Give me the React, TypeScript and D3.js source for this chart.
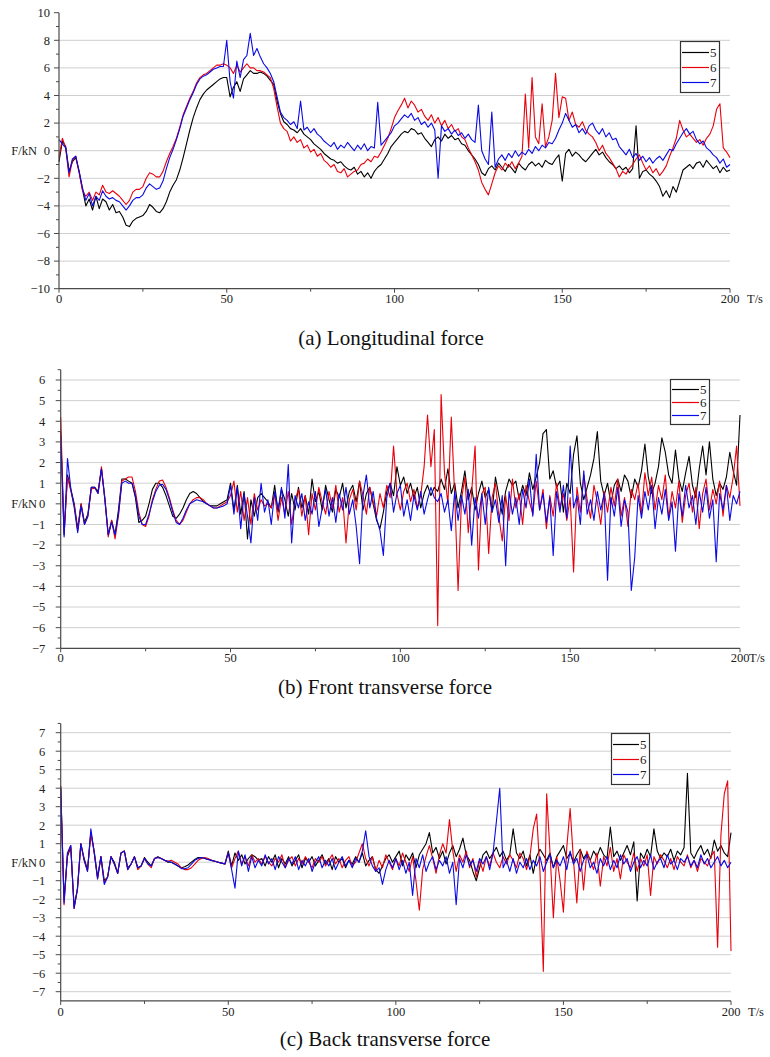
import { useEffect, useRef } from "react";
import * as d3 from "d3";

// sensors shown in every panel
const seriesNames = ["5", "6", "7"];
const seriesColors = ["#000000", "#e8000b", "#0a0ae6"];

// one sample per second, 0..200 s
const seconds = d3.range(0, 201);
const xTicks = [0, 50, 100, 150, 200];
const xMinorTicks = [25, 75, 125, 175];

// (a) longitudinal force, kN
const longitudinal5 = [
    -0.8, 0.7, 0.3, -1.5, -0.8, -0.5, -1.5, -2.8, -4.0, -3.5,
    -4.3, -3.3, -4.2, -3.5, -3.7, -4.3, -3.9, -4.5, -4.4, -4.8,
    -5.4, -5.5, -5.1, -4.9, -4.8, -4.7, -4.4, -3.9, -4.1, -4.4,
    -4.5, -4.2, -3.7, -3.0, -2.5, -2.1, -1.4, -0.5, 0.5, 1.5,
    2.4, 3.1, 3.7, 4.1, 4.4, 4.6, 4.8, 5.0, 5.2, 5.3,
    5.3, 3.9, 4.6, 5.0, 4.3, 5.2, 5.5, 5.8, 5.6, 5.6,
    5.7, 5.6, 5.4, 5.1, 4.8, 3.6, 2.7, 2.1, 1.9, 1.6,
    1.5, 1.3, 1.6, 1.2, 1.0, 0.8, 0.5, 0.3, 0.1, -0.2,
    -0.4, -0.6, -0.7, -0.9, -0.8, -1.1, -1.3, -1.4, -1.2, -1.7,
    -1.5, -1.9, -1.6, -2.0, -1.5, -1.2, -1.0, -0.6, -0.2, 0.3,
    0.6, 0.9, 1.2, 1.4, 1.3, 1.6, 1.5, 1.2, 1.3, 0.9,
    0.6, 0.3, 0.8, 1.0, 0.7, 1.2, 0.9, 1.1, 0.8, 0.9,
    0.5, 0.4, 0.0, -0.3, -0.6, -1.0, -1.6, -1.8, -1.3, -1.1,
    -1.4, -0.9, -1.2, -1.5, -1.0, -1.3, -1.6, -0.9, -1.2, -1.4,
    -1.0, -0.8, -1.1, -0.9, -1.2, -0.7, -0.9, -1.0, -0.6, -0.3,
    -2.2, -0.2, 0.1, -0.4, -0.1, -0.3, -0.6, -0.8, -0.5, -0.2,
    0.1, -0.3, -0.1, -0.5, -0.8, -1.0, -1.3, -1.1, -1.4, -1.2,
    -1.6, -1.3, 1.8, -2.0, -1.5, -1.4, -1.7, -1.9, -2.2, -2.6,
    -3.3, -2.9, -3.4, -2.6, -3.0, -2.2, -1.4, -1.2, -1.0, -1.3,
    -0.9, -0.8, -1.2, -0.7, -1.0, -1.3, -1.1, -1.6, -1.2, -1.5,
    -1.4,
];
const longitudinal6 = [
    -0.5, 0.9, 0.2, -1.9, -0.7, -0.4, -1.6, -2.9, -3.3, -3.0,
    -3.6, -3.0, -3.2, -2.5, -3.0, -3.1, -2.9, -3.1, -3.3, -3.6,
    -3.9, -3.6, -3.0, -2.8, -2.8, -2.6, -2.0, -1.6, -1.7, -1.9,
    -1.9, -1.5, -0.8, -0.2, 0.3, 0.9, 1.7, 2.6, 3.2, 3.8,
    4.3, 4.9, 5.3, 5.5, 5.6, 5.8, 6.0, 6.2, 6.2, 6.3,
    6.2, 6.0, 5.6, 6.2, 5.7, 6.0, 6.3, 6.0, 6.0, 5.8,
    5.8, 5.7, 5.5, 5.3, 4.5, 3.2, 2.0, 1.6, 1.4, 0.7,
    1.0, 0.6, 0.8, 0.2, 0.4, -0.1, 0.1, -0.4, -0.2, -0.7,
    -0.9, -1.2, -1.0, -1.5, -1.6, -1.3, -1.9, -1.7, -1.5, -1.4,
    -1.0, -0.9, -0.6, -0.8, -0.4, -0.5, -0.1, 0.4, 0.9, 1.6,
    2.4, 2.9, 3.3, 3.8, 3.1, 3.6, 3.3, 2.8, 3.0, 2.5,
    2.2, 2.6, 2.0, 2.4, 1.8, 2.2, 1.6, 1.9, 1.4, 1.6,
    1.0, 0.8, 0.2, -0.3, -0.8, -1.4, -2.3, -2.8, -3.2, -2.4,
    -1.6, -1.1, -1.4, -0.9, -1.2, -0.8, -1.3, -0.9, -0.4, 4.1,
    0.2, 5.3, 1.0, 0.5, 3.4, 0.3, 1.0, 2.2, 5.6, 2.4,
    3.9, 3.8, 2.2, 2.8, 1.9, 1.7, 2.1, 1.5, 1.2, 1.0,
    0.6, 0.0, 0.4, -0.2, -0.5, -0.9, -1.3, -1.9, -1.5, -1.7,
    -1.3, -1.0, -0.6, -0.3, -0.9, -1.4, -1.1, -1.6, -1.3, -1.8,
    -1.5, -1.1, -0.4, 0.2, 0.9, 2.2, 1.5, 1.0, 1.2, 0.9,
    0.6, 0.8, 0.4, 0.9, 1.2, 1.8, 3.0, 3.4, 0.2, -0.1,
    -0.5,
];
const longitudinal7 = [
    0.8, 0.5, 0.2, -1.6, -0.6, -0.4, -1.5, -2.7, -3.6, -3.1,
    -4.0, -3.3, -3.6, -2.9, -3.3, -3.5, -3.4, -3.6, -3.7, -4.0,
    -4.3, -4.0, -3.6, -3.4, -3.4, -3.2, -2.7, -2.4, -2.6, -2.8,
    -2.7, -2.2, -1.3, -0.5, 0.1, 0.8, 1.6, 2.5, 3.1, 3.7,
    4.2, 4.8, 5.2, 5.4, 5.5, 5.7, 5.9, 6.0, 6.1, 6.1,
    8.0, 5.0, 3.8, 6.5, 5.3, 6.6, 6.9, 8.5, 6.9, 7.4,
    6.8, 6.3, 6.0, 5.6, 5.0, 3.9, 2.8, 2.4, 2.2, 1.9,
    2.1, 1.6, 3.6, 1.5, 1.7, 1.3, 1.6, 1.2, 1.0, 0.7,
    0.5, 0.3, 0.6, 0.1, 0.4, 0.2, 0.6, 0.3, 0.0, 0.4,
    0.1, 0.5, 0.0, 0.3, 0.2, 3.5, 0.4, 0.7, 1.0, 1.3,
    1.8, 2.0, 2.3, 2.6, 2.4, 2.7, 2.2, 2.4, 1.9, 2.1,
    1.7, 2.0, 1.5, -2.0, 1.8, 1.4, 1.6, 1.2, 1.5, 1.1,
    1.3, 0.9, 1.2, 0.8, 0.6, 3.3, 0.0, -0.6, -1.0, 2.8,
    -1.2, -0.6, -0.3, -0.7, -0.2, -0.5, 0.0, -0.4, -0.1, -0.3,
    0.1, -0.2, 0.3, 0.0, 0.4, 0.2, 0.6, 0.5, 0.9, 1.5,
    2.0, 2.7, 2.2, 1.7, 1.9, 1.3, 1.6, 1.2, 1.8, 2.0,
    1.5, 1.2, 1.6, 1.0, 1.3, 0.8, 0.9, 0.3, 0.0, -0.3,
    0.1, -0.5, -0.2, -0.7, -0.4, -0.8, -0.5, -0.9, -0.6, -0.4,
    -0.7, -0.3, 0.1, 0.0, 0.5, 0.9, 1.3, 1.6, 1.2, 1.4,
    0.8, 0.5, 0.7, 0.2, 0.0, -0.3, -0.5, -0.9, -0.6, -1.2,
    -1.0,
];

// (b) front transverse force, kN
const front5 = [
    3.5, -1.5, 1.4, 0.7, 0.0, -1.2, 0.0, -0.9, -0.5, 0.8,
    0.8, 0.6, 1.7, 0.3, -1.5, -0.8, -1.5, -0.3, 1.2, 1.2,
    1.1, 1.0, 0.3, -0.9, -0.8, -0.6, 0.0, 0.7, 1.0, 1.0,
    0.8, 0.4, -0.1, -0.6, -0.7, -0.5, -0.2, 0.2, 0.5, 0.6,
    0.5, 0.3, 0.1, 0.0, -0.1, -0.1, -0.1, 0.0, 0.1, 0.2,
    1.0, -0.3, 0.9, -0.5, 0.6, -1.7, 0.2, -0.6, 0.3, 0.5,
    0.3, 0.1, -0.2, 0.9, -0.4, 0.7, 0.2, -0.6, 0.5, -0.3,
    0.8, -0.2, 0.4, -0.5, 1.2, 0.1, 0.6, -0.3, 0.9, 0.2,
    -0.4, 0.7, 0.3, 1.0, -0.2, 0.6, 0.9, 0.1, 1.1, -0.3,
    0.5, 0.8, 0.0, -0.8, -1.2, -0.4, 0.6, 1.0, 0.4, 1.8,
    0.9, 1.3, 0.5, 1.0, 0.3, 0.8, -0.2, 0.5, 0.9, 0.4,
    0.8, 0.6, 1.2, 0.7, 1.7, 0.5, 1.0, -0.2, 0.6, 1.6,
    0.2, 0.8, -0.3, 0.5, 1.1, 0.3, 0.7, -0.4, 1.3, 0.4,
    -0.5, 0.6, 1.2, 0.9, 1.1, 0.2, 0.9, 0.4, 1.5, 0.7,
    1.3, 2.0, 3.4, 3.6, 1.2, 1.6, 0.8, 1.1, -0.4, 1.0,
    0.5, 2.4, 3.3, 1.0, 0.2, 0.8, 1.4, 2.2, 3.5, 1.1,
    0.4, 1.0, 0.0, 0.9, 1.2, 0.6, 1.4, 1.1, 0.3, 1.2,
    0.8, 1.6, 2.9, 1.3, 0.5, 1.0, 1.8, 3.2, 2.5, 1.4,
    1.0, 2.6, 1.2, 0.6, 1.5, 2.3, 0.9, 0.3, 1.7, 2.8,
    1.4, 3.0, 1.2, 0.4, 1.0, 0.7, 1.3, 2.5, 1.6, 0.9,
    4.3,
];
const front6 = [
    4.2, -1.4, 1.3, 0.6, -0.1, -1.3, 0.0, -1.0, -0.6, 0.7,
    0.8, 0.5, 1.8, 0.2, -1.6, -0.8, -1.7, -0.6, 1.1, 1.2,
    1.3, 1.3, 0.6, -0.4, -1.0, -1.1, -0.6, 0.2, 0.7, 1.1,
    1.15, 0.8, 0.3, -0.3, -0.8, -1.0, -0.8, -0.4, 0.0, 0.2,
    0.3, 0.3, 0.2, 0.0, -0.1, -0.2, -0.2, -0.1, 0.0, 0.1,
    0.4, 1.1, -0.4, 0.6, -0.8, 0.3, -1.0, 0.5, -0.3, 0.2,
    -0.1, 0.0, -0.2, 0.5, -0.8, 0.3, -0.5, 0.6, -1.0, 0.2,
    0.7, -0.6, 0.4, -1.5, 0.5, -0.3, 0.8, 0.1, -0.5, 0.6,
    -0.2, 0.9, -0.4, 0.3, -1.9, 0.2, 0.7, -0.3, 1.1, 0.4,
    -0.5, 0.8, 0.1, -0.6, 0.5, -0.2, 0.9, 0.3, 2.8, 0.5,
    -0.3, 0.6, 1.0, 0.1, 0.7, -0.2, 0.4, 1.8, 4.3, 1.8,
    3.6, -5.9, 5.3, 1.5, 0.0, 4.2, 0.4, -4.2, 0.2, 1.3,
    -1.4, 0.6, 2.8, -3.2, 0.5, 0.8, -2.4, 0.3, 1.0, -0.6,
    -1.8, 0.4, -0.8, 1.2, -0.2, 0.5, -1.0, 0.9, 0.1, -0.5,
    1.1, -0.3, 0.7, -1.2, 0.4, -0.6, 1.0, -0.2, 0.5, -0.8,
    0.3, -3.3, 0.8, -0.4, 1.4, 0.2, -0.7, 0.9, 0.1, -1.0,
    0.6, -0.4, 0.8, -0.1, 1.2, -0.6, 0.3, -1.1, 0.7, 0.2,
    1.0, -0.5, 1.5, 0.4, 1.3, -0.3, 0.9, 0.2, 1.4, -0.7,
    0.6, -0.2, 1.1, -0.9, 0.4, 1.0, -0.4, 0.8, -1.2, 0.5,
    1.2, -0.3, 0.7, 0.0, 1.1, -0.6, 0.9, 0.3, 1.3, 2.8,
    -0.1,
];
const front7 = [
    3.3, -1.6, 2.2, 0.7, -0.2, -1.4, -0.1, -1.0, -0.6, 0.8,
    0.8, 0.5, 1.7, 0.2, -1.5, -0.9, -1.5, -0.5, 1.0, 1.1,
    1.0, 1.0, 0.4, -0.6, -1.0, -1.0, -0.5, 0.1, 0.6, 0.9,
    0.95, 0.7, 0.2, -0.4, -0.9, -1.0, -0.7, -0.3, 0.0, 0.1,
    0.2, 0.15, 0.1, 0.0, -0.1, -0.2, -0.2, -0.15, -0.1, 0.0,
    0.9, -0.5, 0.8, -1.2, 0.5, -0.6, -1.9, 0.3, -0.8, 1.0,
    -0.4, 0.2, -1.0, 0.6, -0.3, 0.8, -0.7, 1.9, -1.9, 0.4,
    -0.2, 0.5, -0.8, 0.1, -0.5, 0.6, -1.1, -0.2, 0.7, -0.6,
    0.3, -0.9, 0.5, -0.3, 0.8, -0.5, 0.2, -1.1, -2.9, 0.4,
    1.4, -0.2, 0.6, -0.7, -1.3, -2.5, 0.3, 1.0, -0.4, 0.5,
    0.9, -0.6, 0.2, -0.8, 0.4, -0.3, 0.6, -0.5, 0.2, 0.8,
    0.3, 0.1, 0.5, -0.4, 0.2, -1.3, 0.6, -0.8, 0.4, -0.5,
    0.7, -2.0, 0.3, -0.7, 0.5, -1.0, 0.8, -0.4, 0.2, -0.9,
    0.4, -3.0, 0.6, -0.5, 0.3, -1.0, 0.7, -0.2, 1.2, -0.6,
    2.4, -0.3, 0.5, -0.9, 0.3, -2.5, 0.6, -0.4, 0.9, -0.7,
    2.8, -0.2, 0.4, -1.0, 1.6, -0.5, 0.2, -0.8, 0.6, -0.3,
    0.5, -3.7, 0.3, -0.6, 0.8, -1.1, 0.2, -0.4, -4.2, -2.6,
    0.4, -0.7, 0.6, -0.3, 0.9, -1.2, 0.3, -0.5, 0.7, -0.8,
    0.1, -2.3, 0.5, -0.6, 0.9, -0.2, 0.4, -1.0, 0.6, -0.4,
    0.8, -0.7, 0.2, -2.8, 0.5, -0.3, 0.9, -0.8, 0.4, 0.0,
    0.6,
];

// (c) back transverse force, kN
const back5 = [
    4.1, -2.0, 0.3, 0.8, -2.4, -1.5, 1.0, 0.2, -0.4, 1.6,
    0.6, -0.8, 0.3, -1.0, -0.8, 0.3, 0.0, -0.6, 0.5, 0.6,
    -0.3, -0.1, 0.3, -0.3, -0.2, 0.25, 0.0, -0.2, 0.2, 0.3,
    0.2, 0.1, 0.0, 0.0, -0.1, -0.2, -0.3, -0.25, -0.15, 0.0,
    0.15, 0.25, 0.25, 0.2, 0.15, 0.1, 0.05, 0.0, -0.05, -0.1,
    0.6, -0.2, 0.5, 0.1, 0.4, -0.1, 0.2, 0.4, 0.3, 0.1,
    0.2, -0.2, 0.3, 0.0, 0.4, -0.3, 0.2, -0.1, 0.3, -0.2,
    0.1, 0.4, -0.3, 0.2, 0.0, 0.3, -0.2, 0.1, 0.4, -0.1,
    0.2, -0.4, 0.3, 0.0, 0.2, -0.3, 0.1, -0.1, 0.3, 0.0,
    0.5, -0.2, 0.1, 0.3, -0.4, -0.6, -0.2, 0.2, 0.4, 0.0,
    0.3, 0.6, -0.2, 0.4, 0.1, 0.5, -0.3, 0.4, 0.7, 1.0,
    1.6, 0.5, 0.8, 0.2, 0.6, -0.1, 0.5, 0.9, 0.3, 0.7,
    1.3, 0.4, 0.1, -0.5, -1.0, -0.3, 0.4, 0.6, 0.2, 0.5,
    0.8, 0.3, 0.6, 0.1, 0.4, 1.8, 0.5, 0.2, 0.6, -0.2,
    0.4, -0.6, 0.3, 0.7, 0.4, 0.1, 0.5, -0.3, 0.3, 0.6,
    0.9, 0.2, 0.5, 0.0, 0.4, 0.7, 0.2, 0.5, 0.1, 0.6,
    0.3, 0.8, 0.4, 0.2, 1.9, 0.3, 0.6, 0.1, 0.5, 0.9,
    0.4, 1.1, -2.1, 0.5, 0.2, 0.7, 0.3, 1.8, 0.6, 0.2,
    0.5, 0.3, 0.7, 0.1, 0.6, 0.4, 0.8, 4.8, 0.5, 0.2,
    0.6, 0.9, 0.4, 0.7, 0.2, 1.2, 0.6, 0.9, 0.5, 0.3,
    1.6,
];
const back6 = [
    4.1, -2.3, 0.4, 0.9, -2.5, -1.4, 1.0, 0.1, -0.5, 1.6,
    0.5, -0.9, 0.3, -1.1, -0.8, 0.3, -0.1, -0.6, 0.5, 0.6,
    -0.4, -0.1, 0.3, -0.4, -0.2, 0.2, -0.1, -0.3, 0.2, 0.25,
    0.2, 0.1, 0.05, 0.1, 0.0, -0.1, -0.3, -0.4, -0.4, -0.3,
    -0.1, 0.1, 0.2, 0.25, 0.2, 0.1, 0.05, 0.0, -0.05, -0.1,
    0.5, -0.3, 0.2, 0.6, -0.1, 0.3, -0.2, 0.4, 0.0, 0.2,
    -0.1, 0.3, 0.0, -0.2, 0.2, 0.0, 0.4, -0.3, 0.1, 0.3,
    -0.2, 0.2, -0.1, 0.3, 0.0, -0.3, 0.2, 0.0, 0.3, -0.2,
    0.1, 0.4, -0.1, 0.2, -0.3, 0.1, 0.3, -0.2, 0.0, 0.5,
    1.0, 0.2, -0.2, 0.3, -0.5, 0.1, -0.3, 0.4, 0.0, -0.4,
    0.2, -0.2, 0.5, 0.0, -0.5, 0.3, -1.0, -2.6, -0.4, 0.3,
    0.9, 0.2, -0.6, 0.4, 1.0, 0.5, 2.3, 0.6, -0.5, 0.4,
    0.0, 0.6, -0.3, 0.2, -0.8, 0.1, -0.5, 0.3, -0.2, 0.5,
    0.0, -0.3, 0.3, -0.1, 0.4, 0.1, -0.3, 0.5, 0.2, -0.4,
    0.3, 1.8, 2.6, -0.5, -5.9, 3.7, 0.5, -3.0, 0.3, -1.0,
    -2.7, 0.8, 2.9, 0.1, -2.2, 0.7, -1.5, 0.6, 0.1, -0.4,
    0.5, -1.3, 0.3, -0.2, 0.8, -0.5, 0.2, -0.9, 0.4, 0.0,
    -0.3, 0.5, -0.5, 0.2, -0.2, 0.4, -1.8, 0.3, -0.1, 0.4,
    0.1, -0.3, 0.2, -0.4, 0.3, 0.0, -0.2, 0.4, -0.3, 0.1,
    -0.5, 0.2, 0.0, -0.2, 0.3, 0.6, -4.6, 1.5, 3.7, 4.4,
    -4.8,
];
const back7 = [
    4.0, -2.2, 0.5, 0.9, -2.5, -1.4, 1.0, 0.1, -0.5, 1.8,
    0.5, -0.9, 0.3, -1.2, -0.8, 0.3, -0.1, -0.6, 0.5, 0.6,
    -0.4, -0.1, 0.3, -0.3, -0.2, 0.2, -0.1, -0.2, 0.2, 0.25,
    0.2, 0.1, 0.05, 0.0, -0.1, -0.2, -0.35, -0.35, -0.3, -0.1,
    0.1, 0.2, 0.25, 0.2, 0.15, 0.1, 0.05, 0.0, -0.05, -0.1,
    0.5, -0.4, -1.4, 0.6, -0.2, 0.4, -0.5, 0.3, -0.3, 0.1,
    -0.2, 0.4, -0.1, 0.2, -0.4, 0.3, 0.0, -0.3, 0.2, -0.1,
    0.3, -0.4, 0.1, -0.2, 0.2, -0.5, 0.0, 0.3, -0.3, 0.1,
    -0.2, 0.2, -0.4, 0.0, 0.3, -0.2, 0.1, -0.3, 0.2, 0.0,
    0.6, 1.7, 0.3, -0.2, -0.5, -0.3, -1.2, -0.4, 0.1, -0.3,
    0.2, -0.4, 0.1, -0.6, 0.0, -1.8, 0.2, -0.3, 0.4, -0.5,
    0.0, 0.3, -0.4, 0.1, -0.2, 0.3, -0.6, 0.0, -2.3, 0.2,
    -0.3, 0.4, -0.2, 0.1, -0.5, 0.2, -0.1, 0.3, -0.4, 0.5,
    2.2, 4.0, -0.3, 0.1, -0.5, 0.2, -0.6, 0.0, -0.3, 0.2,
    -0.4, 0.1, -0.2, 0.3, -0.5, 0.0, 0.4, -0.3, 0.1, -0.2,
    0.3, -0.4, 0.6, -0.1, 0.2, -0.5, 0.1, 0.4, -0.3, 0.0,
    -0.6, 0.2, -0.2, 0.3, -0.4, 0.1, -0.3, 0.4, -0.1, 0.2,
    -0.5, 0.0, 0.3, -0.3, 0.1, -0.2, 0.4, -0.4, 0.0, 0.2,
    -0.3, 0.4, -0.1, 0.1, -0.4, 0.2, 0.0, 0.3, -0.2, 0.1,
    -0.3, 0.4, -0.1, 0.2, -0.3, 0.0, 0.3, -0.2, 0.1, -0.3,
    0.0,
];

// y tick values per panel
const yTicksA = d3.range(-10, 11, 2);
const yMinorA = d3.range(-9, 10, 2);
const gridA = d3.range(-8, 9, 2);
const yTicksB = d3.range(-7, 7, 1);
const yMinorB = d3.range(-6.5, 6.6, 1);
const gridB = d3.range(-6, 7, 1);
const yTicksC = d3.range(-7, 8, 1);
const yMinorC = d3.range(-6.5, 7.6, 1);
const gridC = d3.range(-7, 8, 1);

const panels = [
    {
        caption: "(a) Longitudinal force",
        series: [longitudinal5, longitudinal6, longitudinal7],
        yDomain: [-10, 10],
        yTicks: yTicksA,
        yMinor: yMinorA,
        grid: gridA,
        left: 59,
        right: 730,
        top: 12.7,
        bottom: 288.7,
        axisTopValue: 10,
        axisBottomValue: -10,
        labelGap: 9,
        xLabelY: 303,
        tsX: 747,
        legend: { x: 680, y: 41, w: 39, h: 51 },
        captionX: 391,
        captionY: 345,
    },
    {
        caption: "(b) Front transverse force",
        series: [front5, front6, front7],
        yDomain: [-7, 6],
        yTicks: yTicksB,
        yMinor: yMinorB,
        grid: gridB,
        left: 60.7,
        right: 740,
        top: 380,
        bottom: 648.3,
        axisTopValue: 6.5,
        axisBottomValue: -7,
        labelGap: 15.5,
        xLabelY: 662,
        tsX: 749,
        legend: { x: 670, y: 379, w: 39, h: 45 },
        captionX: 385,
        captionY: 694,
    },
    {
        caption: "(c) Back transverse force",
        series: [back5, back6, back7],
        yDomain: [-7, 7],
        yTicks: yTicksC,
        yMinor: yMinorC,
        grid: gridC,
        left: 60.7,
        right: 731,
        top: 732.7,
        bottom: 991.7,
        axisTopValue: 7.5,
        axisBottomValue: -7.5,
        labelGap: 15.5,
        xLabelY: 1016,
        tsX: 748,
        legend: { x: 611, y: 733, w: 38, h: 51 },
        captionX: 385,
        captionY: 1046,
    },
];

const tickFont = "'Liberation Serif', 'Times New Roman', serif";
const captionFont = "'Liberation Serif', 'Times New Roman', serif";

function formatTick(v: number) {
    return v < 0 ? `\u2212${Math.abs(v)}` : `${v}`;
}

export default function App() {
    const svgRef = useRef<SVGSVGElement | null>(null);

    useEffect(() => {
        const svg = d3.select(svgRef.current);
        svg.selectAll("*").remove();

        svg.append("rect")
            .attr("width", 770)
            .attr("height", 1057)
            .attr("fill", "#ffffff");

        panels.forEach((panel) => {
            const g = svg.append("g");

            const x = d3
                .scaleLinear()
                .domain([0, 200])
                .range([panel.left, panel.right]);

            const y = d3
                .scaleLinear()
                .domain(panel.yDomain)
                .range([panel.bottom, panel.top]);

            const axisY = y(panel.axisBottomValue);

            // gridlines
            g.selectAll(".grid")
                .data(panel.grid)
                .join("line")
                .attr("x1", panel.left)
                .attr("x2", panel.right)
                .attr("y1", (d) => y(d))
                .attr("y2", (d) => y(d))
                .attr("stroke", "#cfcfcf")
                .attr("stroke-width", 1);

            // series
            const line = d3
                .line<number>()
                .x((_, i) => x(seconds[i]))
                .y((d) => y(d));

            panel.series.forEach((values, i) => {
                g.append("path")
                    .datum(values)
                    .attr("d", line)
                    .attr("fill", "none")
                    .attr("stroke", seriesColors[i])
                    .attr("stroke-width", 1.1)
                    .attr("stroke-linejoin", "round");
            });

            // y axis
            g.append("line")
                .attr("x1", panel.left)
                .attr("x2", panel.left)
                .attr("y1", axisY)
                .attr("y2", y(panel.axisTopValue))
                .attr("stroke", "#4a4a4a")
                .attr("stroke-width", 1.2);

            g.selectAll(".ytick")
                .data(panel.yTicks)
                .join("line")
                .attr("x1", panel.left - 5)
                .attr("x2", panel.left)
                .attr("y1", (d) => y(d))
                .attr("y2", (d) => y(d))
                .attr("stroke", "#4a4a4a");

            g.selectAll(".yminor")
                .data(panel.yMinor)
                .join("line")
                .attr("x1", panel.left - 3)
                .attr("x2", panel.left)
                .attr("y1", (d) => y(d))
                .attr("y2", (d) => y(d))
                .attr("stroke", "#4a4a4a");

            g.selectAll(".ylabel")
                .data(panel.yTicks)
                .join("text")
                .attr("x", panel.left - panel.labelGap)
                .attr("y", (d) => y(d))
                .attr("dy", "0.35em")
                .attr("text-anchor", "end")
                .attr("font-family", tickFont)
                .attr("font-size", 12.5)
                .attr("fill", "#222")
                .text((d) => formatTick(d));

            g.append("text")
                .attr("x", 37)
                .attr("y", y(0))
                .attr("dy", "0.35em")
                .attr("text-anchor", "end")
                .attr("font-family", tickFont)
                .attr("font-size", 12.5)
                .attr("fill", "#222")
                .text("F/kN");

            // x axis
            g.append("line")
                .attr("x1", panel.left)
                .attr("x2", panel.right)
                .attr("y1", axisY)
                .attr("y2", axisY)
                .attr("stroke", "#4a4a4a")
                .attr("stroke-width", 1.2);

            g.selectAll(".xtick")
                .data(xTicks)
                .join("line")
                .attr("x1", (d) => x(d))
                .attr("x2", (d) => x(d))
                .attr("y1", axisY)
                .attr("y2", axisY + 4)
                .attr("stroke", "#4a4a4a");

            g.selectAll(".xminor")
                .data(xMinorTicks)
                .join("line")
                .attr("x1", (d) => x(d))
                .attr("x2", (d) => x(d))
                .attr("y1", axisY)
                .attr("y2", axisY + 3)
                .attr("stroke", "#4a4a4a");

            g.selectAll(".xlabel")
                .data(xTicks)
                .join("text")
                .attr("x", (d) => x(d))
                .attr("y", panel.xLabelY)
                .attr("text-anchor", "middle")
                .attr("font-family", tickFont)
                .attr("font-size", 12.5)
                .attr("fill", "#222")
                .text((d) => d);

            g.append("text")
                .attr("x", panel.tsX)
                .attr("y", panel.xLabelY)
                .attr("font-family", tickFont)
                .attr("font-size", 12.5)
                .attr("fill", "#222")
                .text("T/s");

            // legend
            const lg = panel.legend;
            g.append("rect")
                .attr("x", lg.x + 0.5)
                .attr("y", lg.y + 0.5)
                .attr("width", lg.w)
                .attr("height", lg.h)
                .attr("fill", "#ffffff")
                .attr("stroke", "#333")
                .attr("stroke-width", 1.2);

            const rowH = (lg.h - 6) / 3;
            seriesNames.forEach((name, i) => {
                const cy = Math.round(lg.y + 3 + rowH * (i + 0.5)) + 0.5;
                g.append("line")
                    .attr("x1", lg.x + 2)
                    .attr("x2", lg.x + lg.w - 10)
                    .attr("y1", cy)
                    .attr("y2", cy)
                    .attr("stroke", seriesColors[i])
                    .attr("stroke-width", 1.2);
                g.append("text")
                    .attr("x", lg.x + lg.w - 9)
                    .attr("y", cy)
                    .attr("dy", "0.35em")
                    .attr("font-family", tickFont)
                    .attr("font-size", 13)
                    .attr("fill", "#222")
                    .text(name);
            });

            // caption
            g.append("text")
                .attr("x", panel.captionX)
                .attr("y", panel.captionY)
                .attr("text-anchor", "middle")
                .attr("font-family", captionFont)
                .attr("font-size", 21)
                .attr("fill", "#111")
                .text(panel.caption);
        });
    }, []);

    return (
        <svg
            ref={svgRef}
            width={770}
            height={1057}
            style={{ position: "absolute", left: 0, top: 0 }}
        />
    );
}
